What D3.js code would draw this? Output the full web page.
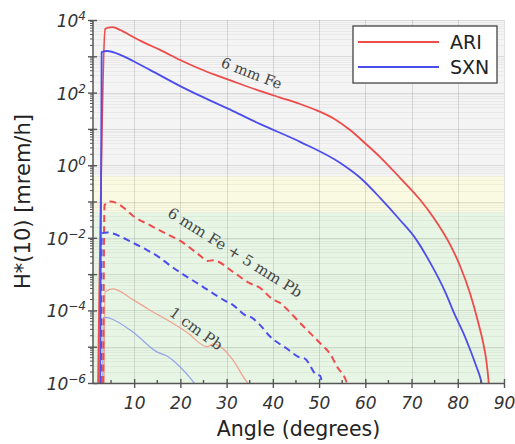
<!DOCTYPE html>
<html>
<head>
<meta charset="utf-8">
<script src="https://cdn.jsdelivr.net/npm/d3@7"></script>
<style>
  body { margin: 0; background: #fff; }
  svg { display: block; }
</style>
</head>
<body>
<svg id="chart" width="515" height="444"></svg>
<script>
// ---- data: ambient dose equivalent rate H*(10) [mrem/h] versus angle [degrees] ----

// ARI, 6 mm Fe
const ariFeAngle = [2.2, 3.73, 4.38, 5.25, 6.11, 6.98, 8.27, 9.79, 12.4, 15.6, 19.96, 24.3, 27.97, 31.4, 37.3, 41.6, 45.9, 49.6, 53.5, 56.7, 59.9, 63.2, 67.5, 71.9, 74.7, 78.4, 80.5, 82.7, 84.4, 85.5, 86.16, 86.7, 87];
const ariFeDose  = [1e-6, 5.65e3, 6.2e3, 6.4e3, 6.0e3, 5.3e3, 4.4e3, 3.4e3, 2.3e3, 1.5e3, 790, 447, 295, 204, 110, 73, 48.5, 32, 18.2, 9.3, 4.1, 1.68, 0.45, 0.11, 0.037, 6.3e-3, 1.67e-3, 2.83e-4, 4.8e-5, 1.26e-5, 4.3e-6, 1e-6, 3e-7];

// SXN, 6 mm Fe
const sxnFeAngle = [2.65, 2.97, 4.16, 6.98, 9.79, 13.5, 19.96, 24.3, 31.4, 37.3, 45.9, 54.6, 58.9, 63.2, 67.5, 70.8, 74.0, 77.3, 79.4, 81.2, 82.7, 84.0, 84.9, 85.3, 85.6];
const sxnFeDose  = [1e-6, 1.3e3, 1.4e3, 1.1e3, 740, 417, 151, 81, 31, 13.5, 4.4, 1.15, 0.45, 0.126, 0.031, 9.8e-3, 2.1e-3, 3.2e-4, 7.4e-5, 2.4e-5, 8.1e-6, 2.9e-6, 1.35e-6, 8e-7, 4e-7];

// ARI, 6 mm Fe + 5 mm Pb
const ariFePbAngle = [3.3, 3.6, 4.8, 6, 8, 9.8, 13.5, 17.1, 19.9, 24.3, 25.8, 27.1, 31.4, 35, 37.2, 40, 41.6, 43, 45.9, 50.2, 52.4, 53.9, 56, 56.3];
const ariFePbDose  = [1e-6, 0.079, 0.1, 0.093, 0.063, 0.04, 0.022, 0.0126, 8.3e-3, 3.2e-3, 2.3e-3, 2.4e-3, 1.15e-3, 5.6e-4, 4.2e-4, 2.0e-4, 1.6e-4, 1.1e-4, 4.5e-5, 1.26e-5, 6.3e-6, 2.8e-6, 1e-6, 6e-7];

// SXN, 6 mm Fe + 5 mm Pb
const sxnFePbAngle = [2.8, 3.0, 4.2, 5, 9.8, 12.8, 15.6, 17.1, 20.5, 24.3, 29.5, 31.4, 34.3, 35, 37.2, 39.4, 43, 45.9, 46.9, 49.5, 50.2, 50.6, 50.8];
const sxnFePbDose  = [1e-6, 0.0132, 0.0141, 0.0135, 7.2e-3, 4.6e-3, 2.8e-3, 2.0e-3, 1e-3, 5e-4, 1.9e-4, 1.4e-4, 7.1e-5, 6.8e-5, 4e-5, 1.9e-5, 8.9e-6, 5e-6, 4.7e-6, 1.66e-6, 1.6e-6, 1e-6, 6e-7];

// ARI, 1 cm Pb
const ariPbAngle = [3.5, 3.7, 5.4, 9.8, 13, 17.1, 21.4, 25.8, 27.1, 31.4, 34.4, 35];
const ariPbDose  = [1e-6, 3.2e-4, 3.9e-4, 1.95e-4, 1.1e-4, 5.5e-5, 2.5e-5, 1e-5, 1.2e-5, 4.3e-6, 1.07e-6, 9e-7];

// SXN, 1 cm Pb
const sxnPbAngle = [3.2, 3.3, 4.2, 5, 9.8, 15, 17, 19.9, 22.5, 23.2];
const sxnPbDose  = [1e-6, 6.3e-5, 6.3e-5, 5.9e-5, 2.5e-5, 7.1e-6, 5.6e-6, 2.8e-6, 1.2e-6, 9e-7];

// axis ticks and shaded dose-rate zones
const xTickValues = [10, 20, 30, 40, 50, 60, 70, 80, 90];
const xMinorTickValues = [5, 15, 25, 35, 45, 55, 65, 75, 85];
const yDecadeExponents = [-6, -5, -4, -3, -2, -1, 0, 1, 2, 3, 4];
const yLabelExponents = [-6, -4, -2, 0, 2, 4];
const zoneLimits = [1e-6, 0.05, 0.5, 1e4];
const zoneColors = ["#e7f5e4", "#fafae2", "#f4f4f4"];

const legendNames = ["ARI", "SXN"];
const seriesColors = { ARI: "#ee4b4b", SXN: "#4d4dee" };
const lightColors = { ARI: "#f2a08e", SXN: "#93a3ea" };

// ---- layout ----
const svg = d3.select("#chart");
const x = d3.scaleLinear().domain([1.1, 90]).range([93, 504]);
const y = d3.scaleLog().domain([1e-6, 1e4]).range([383, 20]);
const [x0, x1] = x.range();
const [yb, yt] = y.range();

// shaded zones
svg.append("g").selectAll("rect")
  .data(zoneColors)
  .join("rect")
  .attr("x", x0)
  .attr("width", x1 - x0)
  .attr("y", (d, i) => y(zoneLimits[i + 1]))
  .attr("height", (d, i) => y(zoneLimits[i]) - y(zoneLimits[i + 1]))
  .attr("fill", d => d);

// minor horizontal grid (2..9 within each decade)
const minorY = [];
yDecadeExponents.slice(0, -1).forEach(e => {
  for (let m = 2; m <= 9; m++) minorY.push(m * Math.pow(10, e));
});
const grid = svg.append("g").attr("shape-rendering", "crispEdges");
grid.selectAll("line.minor")
  .data(minorY)
  .join("line")
  .attr("class", "minor")
  .attr("x1", x0).attr("x2", x1)
  .attr("y1", d => Math.round(y(d)) + 0.5).attr("y2", d => Math.round(y(d)) + 0.5)
  .attr("stroke", "#000").attr("stroke-opacity", 0.045);
grid.selectAll("line.major")
  .data(yDecadeExponents.map(e => Math.pow(10, e)))
  .join("line")
  .attr("class", "major")
  .attr("x1", x0).attr("x2", x1)
  .attr("y1", d => Math.round(y(d)) + 0.5).attr("y2", d => Math.round(y(d)) + 0.5)
  .attr("stroke", "#000").attr("stroke-opacity", 0.11);
grid.selectAll("line.vert")
  .data(xTickValues)
  .join("line")
  .attr("class", "vert")
  .attr("x1", d => Math.round(x(d)) + 0.5).attr("x2", d => Math.round(x(d)) + 0.5)
  .attr("y1", yt).attr("y2", yb)
  .attr("stroke", "#000").attr("stroke-opacity", 0.12);

// curves
svg.append("clipPath").attr("id", "plot-clip")
  .append("rect").attr("x", x0).attr("y", yt).attr("width", x1 - x0).attr("height", yb - yt);

const line = d3.line()
  .x(d => x(d[0]))
  .y(d => y(d[1]))
  .curve(d3.curveMonotoneX);

const curves = [
  { a: ariPbAngle, v: ariPbDose, color: lightColors.ARI, width: 1.2, dash: null },
  { a: sxnPbAngle, v: sxnPbDose, color: lightColors.SXN, width: 1.2, dash: null },
  { a: ariFePbAngle, v: ariFePbDose, color: seriesColors.ARI, width: 2, dash: "7,4.5" },
  { a: sxnFePbAngle, v: sxnFePbDose, color: seriesColors.SXN, width: 2, dash: "7,4.5" },
  { a: ariFeAngle, v: ariFeDose, color: seriesColors.ARI, width: 1.8, dash: null },
  { a: sxnFeAngle, v: sxnFeDose, color: seriesColors.SXN, width: 1.8, dash: null }
];

const curveG = svg.append("g").attr("clip-path", "url(#plot-clip)");
curves.forEach(c => {
  curveG.append("path")
    .datum(c.a.map((a, i) => [a, c.v[i]]))
    .attr("d", line)
    .attr("fill", "none")
    .attr("stroke", c.color)
    .attr("stroke-width", c.width)
    .attr("stroke-dasharray", c.dash)
    .attr("stroke-linejoin", "round");
});

// curve annotations
const notes = [
  { text: "6 mm Fe", a: 35.4, v: 340, rot: 21, size: 14.5 },
  { text: "6 mm Fe + 5 mm Pb", a: 31.8, v: 3.9e-3, rot: 32, size: 15 },
  { text: "1 cm Pb", a: 23.4, v: 3.1e-5, rot: 36, size: 15 }
];
svg.append("g").selectAll("text")
  .data(notes)
  .join("text")
  .attr("transform", d => `translate(${x(d.a)},${y(d.v)}) rotate(${d.rot})`)
  .attr("text-anchor", "middle")
  .attr("dominant-baseline", "central")
  .attr("font-family", "DejaVu Serif")
  .attr("font-size", d => d.size)
  .attr("fill", "#444")
  .text(d => d.text);

// x axis
const axisColor = "#555";
const xAxis = svg.append("g")
  .attr("transform", `translate(0,${yb})`)
  .call(d3.axisBottom(x).tickValues(xTickValues).tickSizeOuter(0).tickSizeInner(5).tickPadding(9)
        .tickFormat(d3.format("d")));
xAxis.select(".domain").attr("stroke", axisColor).attr("stroke-width", 1.5)
  .attr("d", `M${x0},0.5H${x1}`);
xAxis.selectAll(".tick line").attr("stroke", axisColor).attr("stroke-width", 1.4).attr("y1", -4).attr("y2", 5);
xAxis.selectAll(".tick text")
  .attr("font-family", "DejaVu Sans").attr("font-style", "italic")
  .attr("font-size", 17).attr("fill", "#333");
xAxis.append("g").selectAll("line")
  .data(xMinorTickValues)
  .join("line")
  .attr("x1", d => x(d)).attr("x2", d => x(d))
  .attr("y1", -3).attr("y2", 0)
  .attr("stroke", axisColor).attr("stroke-width", 1.4);

// y axis
const yAxis = svg.append("g")
  .attr("transform", `translate(${x0},0)`)
  .call(d3.axisLeft(y).tickValues(yDecadeExponents.map(e => Math.pow(10, e)))
        .tickSizeOuter(0).tickSizeInner(5).tickFormat(() => ""));
yAxis.select(".domain").attr("stroke", axisColor).attr("stroke-width", 1.5)
  .attr("d", `M0,${yt}V${yb}`);
yAxis.selectAll(".tick line").attr("stroke", axisColor).attr("stroke-width", 1.4).attr("x1", 4).attr("x2", -5);
yAxis.append("g").selectAll("line")
  .data(minorY)
  .join("line")
  .attr("x1", -3).attr("x2", 0)
  .attr("y1", d => y(d)).attr("y2", d => y(d))
  .attr("stroke", axisColor).attr("stroke-width", 1);

const yLabels = svg.append("g").selectAll("text")
  .data(yLabelExponents)
  .join("text")
  .attr("x", 86)
  .attr("y", e => y(Math.pow(10, e)) + 7)
  .attr("text-anchor", "end")
  .attr("font-family", "DejaVu Sans").attr("font-style", "italic")
  .attr("font-size", 17).attr("fill", "#333");
yLabels.append("tspan").text("10");
yLabels.append("tspan").attr("dy", -7).attr("font-size", 12)
  .text(e => (e < 0 ? "\u2212" + Math.abs(e) : String(e)));

// axis titles
svg.append("text")
  .attr("x", (x0 + x1) / 2).attr("y", 436)
  .attr("text-anchor", "middle")
  .attr("font-family", "DejaVu Sans").attr("font-size", 20.5).attr("fill", "#222")
  .text("Angle (degrees)");
svg.append("text")
  .attr("transform", `translate(30,${(yt + yb) / 2}) rotate(-90)`)
  .attr("text-anchor", "middle")
  .attr("font-family", "DejaVu Sans").attr("font-size", 21).attr("fill", "#222")
  .text("H*(10) [mrem/h]");

// legend
const legend = svg.append("g").attr("transform", "translate(353,26)");
legend.append("rect")
  .attr("width", 144).attr("height", 57)
  .attr("fill", "#fff").attr("stroke", "#444").attr("stroke-width", 1.3);
const items = legend.selectAll("g.item")
  .data(legendNames)
  .join("g")
  .attr("class", "item")
  .attr("transform", (d, i) => `translate(0,${16 + i * 25})`);
items.append("line")
  .attr("x1", 5).attr("x2", 86)
  .attr("stroke", d => seriesColors[d]).attr("stroke-width", 1.8);
items.append("text")
  .attr("x", 97).attr("y", 7)
  .attr("font-family", "DejaVu Sans").attr("font-size", 19).attr("fill", "#222")
  .text(d => d);
</script>
</body>
</html>
